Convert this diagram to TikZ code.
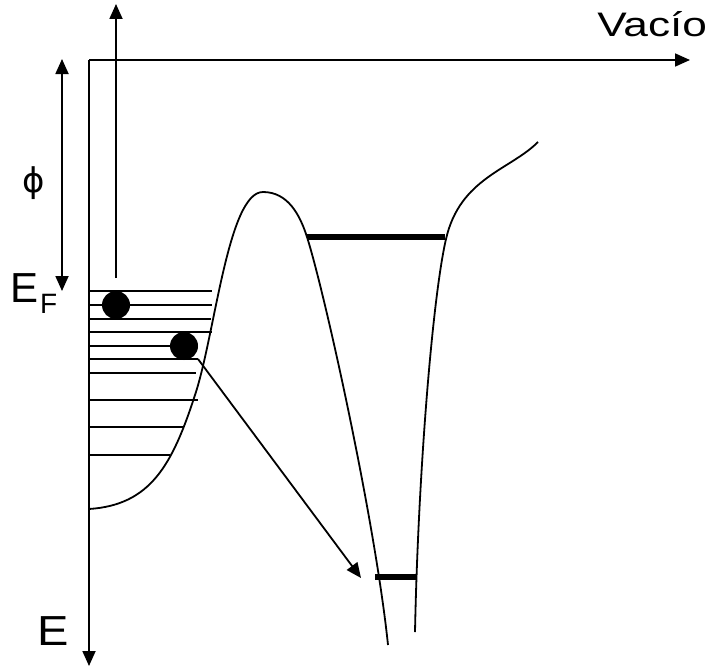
\documentclass[tikz,border=0pt]{standalone}
\usepackage{fontspec}
\setmainfont{Liberation Sans}
\newfontfamily\symfont{DejaVu Sans}
\usetikzlibrary{arrows.meta}
\begin{document}
\begin{tikzpicture}[x=1pt,y=-1pt,
  thin line/.style={line width=1.8pt, line cap=butt},
  axis/.style={line width=1.8pt, -{Triangle[length=15pt,width=13pt]}},
  dblarrow/.style={line width=1.8pt, {Triangle[length=15pt,width=13pt]}-{Triangle[length=15pt,width=13pt]}},
  level/.style={line width=5.5pt},
  ball/.style={circle, fill=black, minimum size=28pt, inner sep=0pt},
  lbl/.style={inner sep=0pt, font=\fontsize{42}{44}\selectfont}
]
\useasboundingbox (0,0) rectangle (708,669);
% coordinates
\coordinate (O) at (89,60);
\coordinate (Xend) at (690,60);
\coordinate (Yend) at (89,666);
% axes
\draw[axis] (O) -- (Xend);
\draw[axis] (O) -- (Yend);
% phi double arrow
\coordinate (phiT) at (62,59);
\coordinate (phiB) at (62,291);
\draw[dblarrow] (phiT) -- (phiB);
% emission arrow
\coordinate (emB) at (116,278);
\coordinate (emT) at (116,4);
\draw[axis] (emB) -- (emT);
% occupied levels
\foreach \y/\x in {291/212,305/212,319/211,332/212,346/198,359/198,373/196,400/198,427/184,455/170}{
  \draw[thin line] (89,\y) -- (\x,\y);
}
% left potential curve (metal + barrier)
\draw[thin line] (89,509) .. controls (150,505) and (172,466) .. (195,395)
  .. controls (215,335) and (228,192) .. (263,192)
  .. controls (288,192) and (300,215) .. (307,237)
  .. controls (325,294) and (375,520) .. (388,645);
% right well curve
\draw[thin line] (415,632) .. controls (418,480) and (432,300) .. (446,239)
  .. controls (460,178) and (510,170) .. (538,142);
% bound levels
\coordinate (L1a) at (307,237);
\coordinate (L1b) at (445,237);
\draw[level] (L1a) -- (L1b);
\coordinate (L2a) at (375,577);
\coordinate (L2b) at (416,577);
\draw[level] (L2a) -- (L2b);
% electrons
\node[ball] (e1) at (116,305) {};
\node[ball] (e2) at (184,346) {};
% transition arrow
\coordinate (trS) at (198,359);
\coordinate (trE) at (361,578);
\draw[axis] (trS) -- (trE);
% labels
\node[lbl, anchor=base west, xscale=1.3, font=\fontsize{34}{36}\selectfont] (vac) at (597,37) {Vacío};
\node[lbl, anchor=base west] (ef) at (10,302) {E\kern2pt\raisebox{-11pt}{\fontsize{28}{30}\selectfont F}};
\node[lbl, anchor=base west, xscale=1.12] (elab) at (37,645) {E};
\node[inner sep=0pt, font=\symfont\fontsize{34}{36}\selectfont] (phi) at (34,183) {ϕ};
\end{tikzpicture}
\end{document}
